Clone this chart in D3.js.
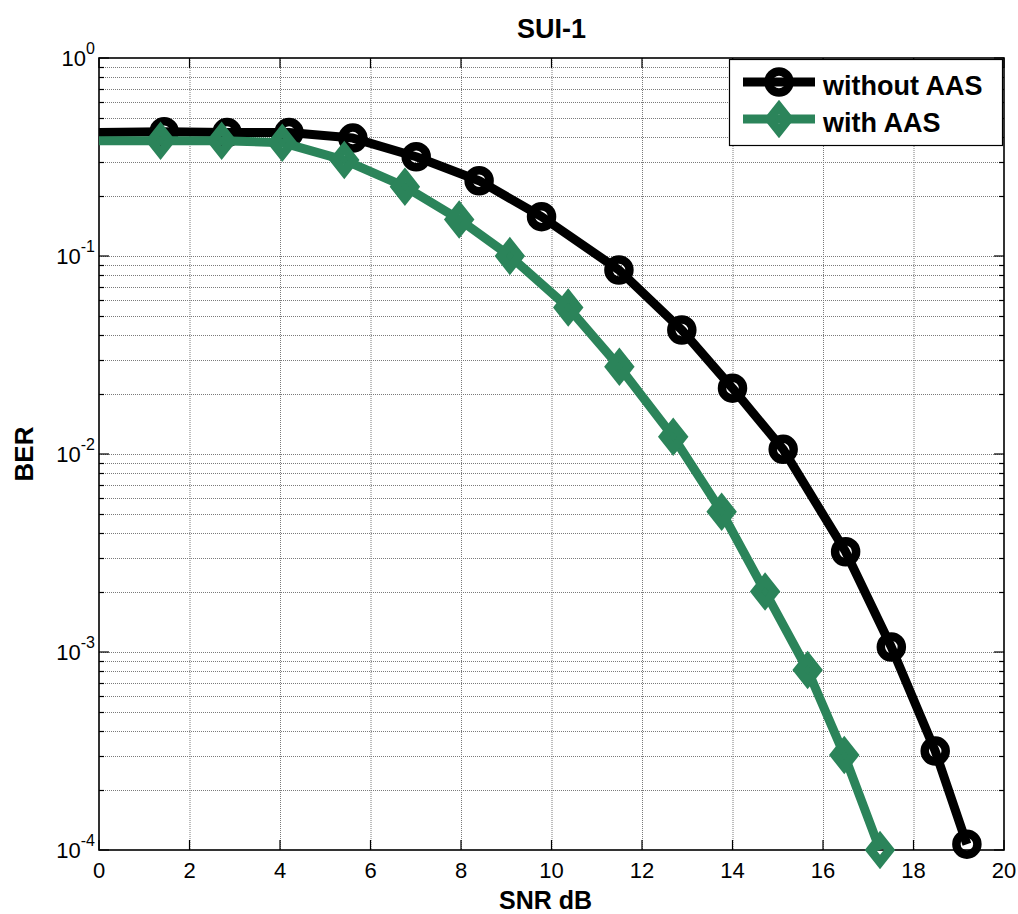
<!DOCTYPE html>
<html>
<head>
<meta charset="utf-8">
<script src="https://cdn.jsdelivr.net/npm/d3@7"></script>
<style>
  html, body { margin: 0; padding: 0; background: #fff; }
  text { font-family: "Liberation Sans", Arial, sans-serif; }
</style>
</head>
<body>
<svg id="chart" width="1018" height="914"></svg>
<script>
// ---- data ----
const seriesNames = ["without AAS", "with AAS"];
const snrWithout = [0, 1.44, 2.83, 4.20, 5.61, 7.01, 8.40, 9.78, 11.49, 12.88, 14.00, 15.12, 16.50, 17.51, 18.48, 19.18];
const berWithout = [0.42, 0.424, 0.42, 0.42, 0.394, 0.317, 0.240, 0.158, 0.085, 0.0423, 0.0215, 0.01056, 0.00321, 0.00106, 0.000316, 0.000107];
const snrWith = [0, 1.36, 2.71, 4.05, 5.42, 6.76, 7.96, 9.08, 10.37, 11.50, 12.69, 13.76, 14.72, 15.66, 16.47, 17.26];
const berWith = [0.382, 0.382, 0.382, 0.3735, 0.305, 0.224, 0.153, 0.100, 0.0549, 0.0276, 0.01223, 0.00511, 0.00202, 0.000811, 0.000302, 0.0001];
const xTicks = [0, 2, 4, 6, 8, 10, 12, 14, 16, 18, 20];
const yTickExps = [0, -1, -2, -3, -4];
const titleText = "SUI-1";
const xLabel = "SNR dB";
const yLabel = "BER";

// ---- layout ----
const L = 99, R = 1004, T = 58, B = 850;
const svg = d3.select("#chart");
const x = d3.scaleLinear().domain([0, 20]).range([L, R]);
const y = d3.scaleLog().domain([1e-4, 1]).range([B, T]);
const colors = ["#000000", "#2b845a"];

// minor ticks values
const minorY = [];
for (let e = -4; e < 0; e++) for (let m = 2; m <= 9; m++) minorY.push(m * Math.pow(10, e));
const majorY = yTickExps.map(e => Math.pow(10, e));

// grid
const grid = svg.append("g").attr("stroke", "#7a7a7a").attr("stroke-width", 1).attr("stroke-dasharray", "1,1");
grid.selectAll(".gx").data(xTicks.slice(1, -1)).join("line")
  .attr("x1", d => x(d) + 0.5).attr("x2", d => x(d) + 0.5).attr("y1", T).attr("y2", B);
grid.selectAll(".gy").data(majorY.concat(minorY).filter(v => v < 1 && v > 1e-4)).join("line")
  .attr("y1", d => Math.round(y(d)) + 0.5).attr("y2", d => Math.round(y(d)) + 0.5).attr("x1", L).attr("x2", R);

// ticks (inside, all four sides)
const tk = svg.append("g").attr("stroke", "#000").attr("stroke-width", 1.2);
xTicks.forEach(v => {
  tk.append("line").attr("x1", x(v)).attr("x2", x(v)).attr("y1", B).attr("y2", B - 10);
  tk.append("line").attr("x1", x(v)).attr("x2", x(v)).attr("y1", T).attr("y2", T + 10);
});
majorY.forEach(v => {
  tk.append("line").attr("x1", L).attr("x2", L + 10).attr("y1", y(v)).attr("y2", y(v));
  tk.append("line").attr("x1", R).attr("x2", R - 10).attr("y1", y(v)).attr("y2", y(v));
});
minorY.forEach(v => {
  tk.append("line").attr("x1", L).attr("x2", L + 5).attr("y1", Math.round(y(v)) + 0.5).attr("y2", Math.round(y(v)) + 0.5);
  tk.append("line").attr("x1", R).attr("x2", R - 5).attr("y1", Math.round(y(v)) + 0.5).attr("y2", Math.round(y(v)) + 0.5);
});

// frame
svg.append("rect").attr("x", L).attr("y", T).attr("width", R - L).attr("height", B - T)
  .attr("fill", "none").attr("stroke", "#000").attr("stroke-width", 1.6);

// tick labels
svg.append("g").selectAll("text").data(xTicks).join("text")
  .attr("x", d => x(d)).attr("y", B + 28).attr("text-anchor", "middle")
  .attr("font-size", 22).attr("fill", "#000").text(d => d);
const yl = svg.append("g").selectAll("text").data(yTickExps).join("text")
  .attr("x", 95).attr("y", d => y(Math.pow(10, d)) + 7.5).attr("text-anchor", "end")
  .attr("font-size", 22).attr("fill", "#000");
yl.append("tspan").text("10");
yl.append("tspan").attr("dy", -12).attr("font-size", 16).text(d => d === 0 ? "0" : String(d));

// title & axis labels
svg.append("text").attr("x", (L + R) / 2).attr("y", 38).attr("text-anchor", "middle")
  .attr("font-size", 27).attr("font-weight", "bold").text(titleText);
svg.append("text").attr("x", (L + R) / 2 - 6).attr("y", 909).attr("text-anchor", "middle")
  .attr("font-size", 25).attr("font-weight", "bold").text(xLabel);
svg.append("text").attr("transform", `translate(33,${(T + B) / 2}) rotate(-90)`).attr("text-anchor", "middle")
  .attr("font-size", 26).attr("font-weight", "bold").text(yLabel);

// marker shapes
function drawCircle(g, cx, cy, color) {
  g.append("circle").attr("cx", cx).attr("cy", cy).attr("r", 10.5)
    .attr("fill", "none").attr("stroke", color).attr("stroke-width", 8.5);
}
function drawDiamond(g, cx, cy, color) {
  const w = 9.5, h = 12;
  g.append("path").attr("d", `M${cx},${cy - h}L${cx + w},${cy}L${cx},${cy + h}L${cx - w},${cy}Z`)
    .attr("fill", "none").attr("stroke", color).attr("stroke-width", 9).attr("stroke-linejoin", "miter")
    .attr("stroke-miterlimit", 10);
}

const series = [
  { xs: snrWithout, ys: berWithout, color: colors[0], marker: drawCircle },
  { xs: snrWith, ys: berWith, color: colors[1], marker: drawDiamond }
];
const line = d3.line().x(d => x(d[0])).y(d => y(d[1]));
series.forEach(s => {
  const g = svg.append("g");
  const pts = s.xs.map((v, i) => [v, s.ys[i]]);
  g.append("path").attr("d", line(pts)).attr("fill", "none").attr("stroke", s.color)
    .attr("stroke-width", 9).attr("stroke-linejoin", "round");
  pts.slice(1).forEach(p => s.marker(g, x(p[0]), y(p[1]), s.color));
});

// legend
const lg = svg.append("g");
lg.append("rect").attr("x", 729.5).attr("y", 59.5).attr("width", 273).attr("height", 86)
  .attr("fill", "#fff").attr("stroke", "#000").attr("stroke-width", 1.2);
const legY = [82, 119];
series.forEach((s, i) => {
  lg.append("line").attr("x1", 743).attr("x2", 815).attr("y1", legY[i]).attr("y2", legY[i])
    .attr("stroke", s.color).attr("stroke-width", 9);
  s.marker(lg, 779, legY[i], s.color);
  lg.append("text").attr("x", 823).attr("y", legY[i] + 12.5).attr("font-size", 27)
    .attr("font-weight", "bold").attr("fill", "#000").text(seriesNames[i]);
});
</script>
</body>
</html>
